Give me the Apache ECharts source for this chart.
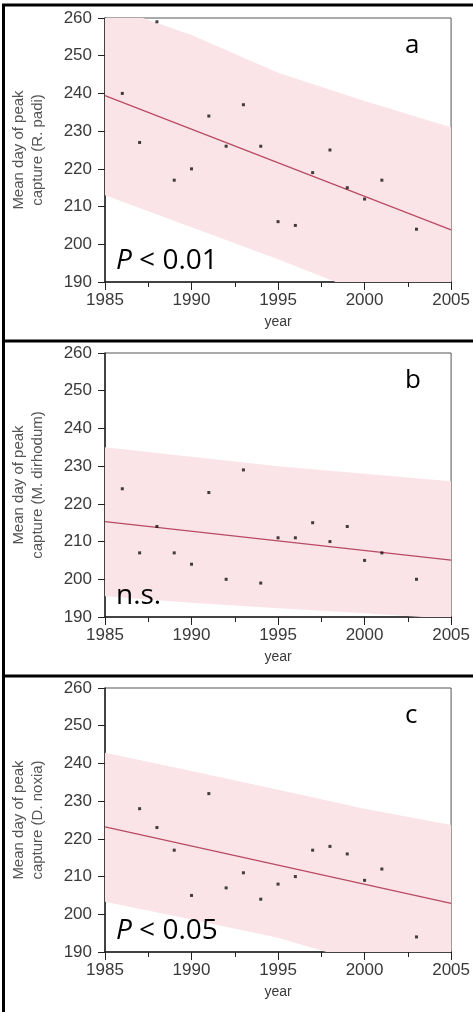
<!DOCTYPE html>
<html>
<head>
<meta charset="utf-8">
<script src="https://cdn.jsdelivr.net/npm/echarts@6/dist/echarts.min.js"></script>
<style>
  html, body { margin: 0; padding: 0; background: #fff; }
  #chart { width: 473px; height: 1012px; }
</style>
</head>
<body>
<div id="chart"></div>
<script>
// years with observations
const yearsAB = [1986, 1987, 1988, 1989, 1990, 1991, 1992, 1993, 1994, 1995, 1996, 1997, 1998, 1999, 2000, 2001, 2003]
const yearsC = [1987, 1988, 1989, 1990, 1991, 1992, 1993, 1994, 1995, 1996, 1997, 1998, 1999, 2000, 2001, 2003]

// mean day of peak capture
const padi = [240, 227, 259, 217, 220, 234, 226, 237, 226, 206, 205, 219, 225, 215, 212, 217, 204]
const dirhodum = [224, 207, 214, 207, 204, 223, 200, 229, 199, 211, 211, 215, 210, 214, 205, 207, 200]
const noxia = [228, 223, 217, 205, 232, 207, 211, 204, 208, 210, 217, 218, 216, 209, 212, 194]

// regression line ends (1985, 2005)
const fitYears = [1985, 2005]
const padiFit = [239.4, 203.8]
const dirhodumFit = [215.3, 205.1]
const noxiaFit = [223.2, 202.9]

// prediction band, read at these years
const bandYears = [1985, 1990, 1995, 2000, 2005]
const padiUpper = [263.5, 255.5, 245.5, 238, 231]
const padiLower = [213, 204.5, 196, 187, 177]
const dirhodumUpper = [235, 232.5, 230, 228, 226]
const dirhodumLower = [195.5, 193.8, 192.3, 191, 189.5]
const noxiaUpper = [242.8, 238, 233, 228, 223.7]
const noxiaLower = [203.3, 198.6, 193.8, 187, 181]

const xTicks = [1985, 1990, 1995, 2000, 2005]
const yTicks = [190, 200, 210, 220, 230, 240, 250, 260]

const panels = [
  { title: 'Mean day of peak\ncapture (R. padi)', years: yearsAB, values: padi, fit: padiFit, upper: padiUpper, lower: padiLower, letter: 'a', note: '{i|P} < 0.01' },
  { title: 'Mean day of peak\ncapture (M. dirhodum)', years: yearsAB, values: dirhodum, fit: dirhodumFit, upper: dirhodumUpper, lower: dirhodumLower, letter: 'b', note: 'n.s.' },
  { title: 'Mean day of peak\ncapture (D. noxia)', years: yearsC, values: noxia, fit: noxiaFit, upper: noxiaUpper, lower: noxiaLower, letter: 'c', note: '{i|P} < 0.05' }
]

const PANEL_H = 335
const textColor = '#3a3a3a'
const labelFont = 'Liberation Sans, Arial, sans-serif'
const noteFont = 'Open Sans, Noto Sans, sans-serif'

const grid = []
const xAxis = []
const yAxis = []
const series = []
const graphic = []

panels.forEach((p, i) => {
  const off = PANEL_H * i
  grid.push({
    left: 105, right: 17, top: 18 + off, height: 264,
    show: true, borderColor: '#555', borderWidth: 1, backgroundColor: 'transparent'
  })
  xAxis.push({
    gridIndex: i,
    type: 'value',
    min: xTicks[0],
    max: xTicks[xTicks.length - 1],
    interval: 5,
    name: 'year',
    nameLocation: 'middle',
    nameGap: 33,
    nameTextStyle: { color: textColor, fontSize: 14, fontFamily: labelFont },
    axisLine: { lineStyle: { color: '#222', width: 1.5 } },
    axisTick: { length: 8, lineStyle: { color: '#222' } },
    minorTick: { show: true, splitNumber: 2, length: 5, lineStyle: { color: '#222' } },
    axisLabel: { color: textColor, fontSize: 17, fontFamily: labelFont, margin: 10, formatter: v => String(v) },
    splitLine: { show: false }
  })
  yAxis.push({
    gridIndex: i,
    type: 'value',
    min: yTicks[0],
    max: yTicks[yTicks.length - 1],
    interval: 10,
    name: p.title,
    nameLocation: 'middle',
    nameGap: 58,
    nameTextStyle: { color: '#555', fontSize: 15, fontFamily: labelFont, lineHeight: 19 },
    axisLine: { lineStyle: { color: '#222', width: 1.5 } },
    axisTick: { length: 7, lineStyle: { color: '#222' } },
    axisLabel: { color: textColor, fontSize: 17, fontFamily: labelFont, margin: 13 },
    splitLine: { show: false }
  })

  // 预测区间
  const upper = p.upper
  const lower = p.lower
  series.push({
    type: 'custom',
    xAxisIndex: i,
    yAxisIndex: i,
    silent: true,
    z: 1,
    data: bandYears.map((y, k) => [y, lower[k], upper[k]]),
    renderItem(params, api) {
      if (params.dataIndex !== 0) return null
      const top = bandYears.map((y, k) => api.coord([y, upper[k]]))
      const bottom = bandYears.map((y, k) => api.coord([y, lower[k]])).reverse()
      const cs = params.coordSys
      return {
        type: 'polygon',
        shape: { points: top.concat(bottom) },
        style: { fill: '#fbe4e8' },
        clipPath: { type: 'rect', shape: { x: cs.x, y: cs.y, width: cs.width, height: cs.height } }
      }
    }
  })
  // 回归线
  series.push({
    type: 'line',
    xAxisIndex: i,
    yAxisIndex: i,
    z: 3,
    showSymbol: false,
    silent: true,
    data: fitYears.map((y, k) => [y, p.fit[k]]),
    lineStyle: { color: '#b84a64', width: 1.3 }
  })
  // 观测点
  series.push({
    type: 'scatter',
    xAxisIndex: i,
    yAxisIndex: i,
    z: 4,
    symbol: 'rect',
    symbolSize: 3,
    data: p.years.map((y, k) => [y, p.values[k]]),
    itemStyle: { color: '#111' }
  })

  graphic.push({
    type: 'text',
    z: 20,
    left: 405,
    top: 33 + off,
    style: { text: p.letter, font: '26px ' + noteFont, fill: '#000' }
  })
  graphic.push({
    type: 'text',
    z: 20,
    left: 116,
    top: 247 + off,
    style: {
      text: p.note,
      font: '28px ' + noteFont,
      fill: '#000',
      rich: { i: { fontStyle: 'italic', fontSize: 28, fontFamily: noteFont, fill: '#000' } }
    }
  })
})

// 面板边框
graphic.push(
  { type: 'line', z: 20, shape: { x1: 2, y1: 5, x2: 473, y2: 5 }, style: { stroke: '#000', lineWidth: 3 } },
  { type: 'line', z: 20, shape: { x1: 2, y1: 341, x2: 473, y2: 341 }, style: { stroke: '#000', lineWidth: 3 } },
  { type: 'line', z: 20, shape: { x1: 2, y1: 676, x2: 473, y2: 676 }, style: { stroke: '#000', lineWidth: 3 } },
  { type: 'line', z: 20, shape: { x1: 3.5, y1: 4, x2: 3.5, y2: 1012 }, style: { stroke: '#000', lineWidth: 3 } }
)

const chart = echarts.init(document.getElementById('chart'), null, { renderer: 'canvas' })
chart.setOption({
  animation: false,
  backgroundColor: '#fff',
  grid,
  xAxis,
  yAxis,
  series,
  graphic
})
</script>
</body>
</html>
